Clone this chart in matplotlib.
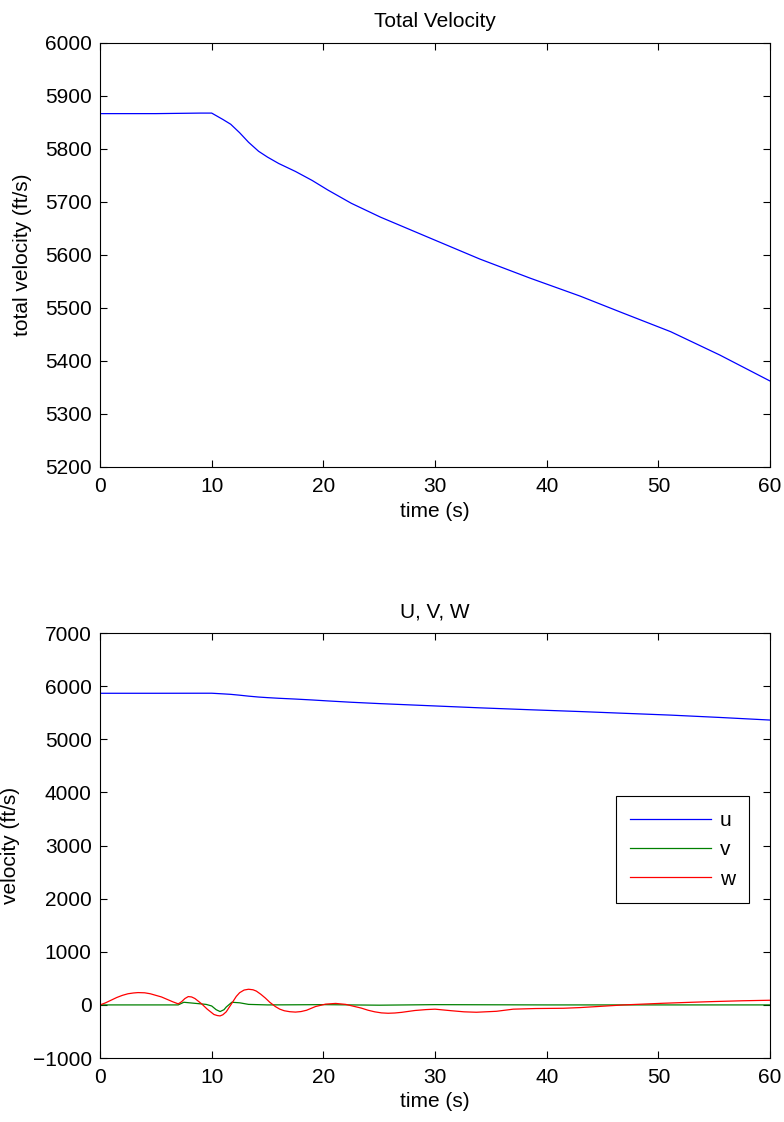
import matplotlib
matplotlib.use("Agg")
import matplotlib.pyplot as plt

# total velocity (ft/s)
t_total = [0, 5, 9, 10, 11, 11.7, 12.5, 13.3, 14.2, 15, 16, 17.5, 19, 20.4, 22.5,
           25.1, 29.6, 34, 38.5, 43, 46.6, 51.1, 55.5, 60]
v_total = [5866, 5866, 5867, 5867, 5855, 5846, 5830, 5812, 5795, 5784, 5772, 5757,
           5740, 5722, 5697, 5671, 5631, 5592, 5556, 5522, 5492, 5455, 5411, 5362]

# body components
t_w = [0, 0.5, 1, 1.5, 2, 2.5, 3, 3.4, 4, 4.5, 5, 5.5, 6, 6.5, 7.0, 7.3, 7.6, 7.9,
       8.2, 8.5, 8.8, 9.1, 9.6, 10.2, 10.5, 10.75, 11.0, 11.3, 11.8, 12.2, 12.5,
       12.9, 13.3, 13.7, 14.0, 14.4, 14.8, 15.2, 15.7, 16.1, 16.5, 17.0, 17.5, 18.0,
       18.5, 19.3, 20.2, 21.1, 22.0, 22.7, 23.4, 24.0, 24.6, 25.2, 25.8, 26.4, 27.0,
       28.2, 29.2, 30, 31.5, 32.6, 33.7, 35.5, 37, 39, 41.5, 43, 44.5, 46.9, 50.4, 53,
       54.9, 57.5, 60]
w = [0, 40, 90, 140, 180, 210, 225, 232, 228, 210, 180, 150, 105, 60, 20, 60, 120,
     157, 150, 120, 70, 20, -80, -180, -200, -207, -185, -130, 30, 160, 230,
     280, 295, 285, 260, 200, 130, 50, -31, -80, -110, -128, -135, -125,
     -100, -30, 15, 28, 10, -25, -60, -100, -130, -150, -157, -152, -140,
     -105, -88, -80, -110, -130, -138, -120, -80, -68, -63, -50, -31, 0, 31, 50,
     63, 78, 88]

t_v = [0, 7.0, 7.5, 8.5, 9.5, 10.0, 10.4, 10.75, 11.1, 11.3, 11.8, 12.5, 13.3, 15,
       20, 25, 30, 40, 50, 60]
v = [0, 0, 50, 30, 10, -20, -90, -125, -90, -40, 50, 40, 10, 0, 5, -5, 5, 0, 0, 0]

plt.rcParams['font.family'] = ['Liberation Sans', 'DejaVu Sans']
plt.rcParams['font.size'] = 15
plt.rcParams['xtick.direction'] = 'in'
plt.rcParams['ytick.direction'] = 'in'
plt.rcParams['xtick.top'] = True
plt.rcParams['ytick.right'] = True
plt.rcParams['xtick.major.size'] = 5
plt.rcParams['ytick.major.size'] = 5
plt.rcParams['xtick.major.pad'] = 7
plt.rcParams['ytick.major.pad'] = 6
plt.rcParams['axes.linewidth'] = 0.8

fig = plt.figure(figsize=(7.84, 11.22), dpi=100)

ax1 = fig.add_axes([0.1276, 0.5838, 0.8546, 0.3783])
ax1.plot(t_total, v_total, color='blue', lw=0.9)
ax1.set_xlim(0, 60)
ax1.set_ylim(5200, 6000)
ax1.set_xticks(range(0, 61, 10))
ax1.set_yticks(range(5200, 6001, 100))
ax1.set_title("Total Velocity", fontsize=15, pad=11)
ax1.set_xlabel("time (s)", fontsize=15)
ax1.set_ylabel("total velocity (ft/s)", fontsize=15)
ax1.xaxis.set_label_coords(0.5, -0.082)
ax1.yaxis.set_label_coords(-0.101, 0.5)

ax2 = fig.add_axes([0.1276, 0.0570, 0.8546, 0.3788])
ax2.plot(t_total, v_total, color='blue', lw=0.9, label='u')
ax2.plot(t_v, v, color=(0, 0.5, 0), lw=0.9, label='v')
ax2.plot(t_w, w, color='red', lw=0.9, label='w')
ax2.set_xlim(0, 60)
ax2.set_ylim(-1000, 7000)
ax2.set_xticks(range(0, 61, 10))
ax2.set_yticks(range(-1000, 7001, 1000))
ax2.set_title("U, V, W", fontsize=15, pad=11)
ax2.set_xlabel("time (s)", fontsize=15)
ax2.set_ylabel("velocity (ft/s)", fontsize=15)
ax2.xaxis.set_label_coords(0.5, -0.08)
ax2.yaxis.set_label_coords(-0.119, 0.5)
leg = ax2.legend(loc='upper right', bbox_to_anchor=(0.969, 0.616), fontsize=15,
                 fancybox=False, edgecolor='black', framealpha=1, borderaxespad=0,
                 handlelength=3.85, handletextpad=0.43, labelspacing=0.5, borderpad=0.7)
leg.get_frame().set_linewidth(0.8)

fig.savefig("out.png", dpi=100)
